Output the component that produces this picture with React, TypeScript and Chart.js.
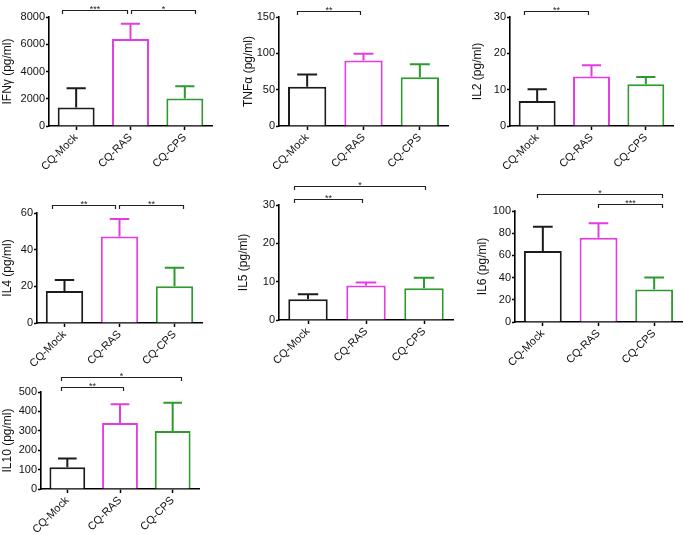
import React, { useEffect, useRef } from 'react';
import { Chart, registerables } from 'chart.js';

Chart.register(...registerables);

// ---------- data ----------
const categories = ['CQ-Mock', 'CQ-RAS', 'CQ-CPS'];
const barColors = ['#1c1c1c', '#e43ce4', '#2e9a2e'];

const ifngMean = [1350, 6380, 2010];
const ifngSem = [1420, 1130, 910];
const tnfMean = [54, 90, 67];
const tnfSem = [17, 9.5, 18];
const il2Mean = [6.9, 13.6, 11.5];
const il2Sem = [3.2, 3.1, 2.0];
const il4Mean = [17.4, 47.2, 20.1];
const il4Sem = [6.0, 9.5, 10.1];
const il5Mean = [5.4, 9.0, 8.3];
const il5Sem = [1.3, 0.8, 2.7];
const il6Mean = [63.9, 75.9, 29.2];
const il6Sem = [21.9, 13.0, 10.9];
const il10Mean = [112, 340, 299];
const il10Sem = [45, 97, 146];

// significance comparisons: group a vs group b, label, bracket level (data units)
const ifngSig = [
  { a: 0, b: 1, label: '***', level: 8510 },
  { a: 1, b: 2, label: '*', level: 8510 },
];
const tnfSig = [{ a: 0, b: 1, label: '**', level: 158.3 }];
const il2Sig = [{ a: 0, b: 1, label: '**', level: 31.65 }];
const il4Sig = [
  { a: 0, b: 1, label: '**', level: 64.4 },
  { a: 1, b: 2, label: '**', level: 64.4 },
];
const il5Sig = [
  { a: 0, b: 1, label: '**', level: 31.6 },
  { a: 0, b: 2, label: '*', level: 35.0 },
];
const il6Sig = [
  { a: 0, b: 2, label: '*', level: 115.3 },
  { a: 1, b: 2, label: '***', level: 106.3 },
];
const il10Sig = [
  { a: 0, b: 1, label: '**', level: 523.6 },
  { a: 0, b: 2, label: '*', level: 575.5 },
];

// ---------- layout / style ----------
const FONT = "'Liberation Sans', Arial, Helvetica, sans-serif";

type Sig = { a: number; b: number; label: string; level: number };
type PanelDef = {
  title: string;
  mean: number[];
  sem: number[];
  max: number;
  step: number;
  sig: Sig[];
  nudge: [number, number][];
  box: { cx: number; cy: number; cw: number; ch: number };
  area: { left: number; right: number; top: number; bottom: number };
};

const panels: PanelDef[] = [
  {
    title: 'IFNγ (pg/ml)', mean: ifngMean, sem: ifngSem, max: 8000, step: 2000, sig: ifngSig,
    nudge: [[-0.26, -0.07], [0, 0.19]],
    box: { cx: 0, cy: 0, cw: 228, ch: 190 }, area: { left: 49, right: 212, top: 17, bottom: 126 },
  },
  {
    title: 'TNFα (pg/ml)', mean: tnfMean, sem: tnfSem, max: 150, step: 50, sig: tnfSig,
    nudge: [[-0.18, -0.06]],
    box: { cx: 241, cy: 0, cw: 220, ch: 190 }, area: { left: 279, right: 448, top: 17, bottom: 126 },
  },
  {
    title: 'IL2 (pg/ml)', mean: il2Mean, sem: il2Sem, max: 30, step: 10, sig: il2Sig,
    nudge: [[-0.24, -0.06]],
    box: { cx: 470, cy: 0, cw: 215, ch: 190 }, area: { left: 510, right: 673, top: 17, bottom: 126 },
  },
  {
    title: 'IL4 (pg/ml)', mean: il4Mean, sem: il4Sem, max: 60, step: 20, sig: il4Sig,
    nudge: [[-0.23, -0.08], [-0.01, 0.15]],
    box: { cx: 0, cy: 178, cw: 228, ch: 195 }, area: { left: 37, right: 202, top: 213, bottom: 323 },
  },
  {
    title: 'IL5 (pg/ml)', mean: il5Mean, sem: il5Sem, max: 30, step: 10, sig: il5Sig,
    nudge: [[-0.24, -0.07], [-0.24, 0.02]],
    box: { cx: 236, cy: 178, cw: 225, ch: 195 }, area: { left: 279, right: 453, top: 205, bottom: 320 },
  },
  {
    title: 'IL6 (pg/ml)', mean: il6Mean, sem: il6Sem, max: 100, step: 20, sig: il6Sig,
    nudge: [[-0.11, 0.14], [-0.01, 0.14]],
    box: { cx: 475, cy: 178, cw: 210, ch: 195 }, area: { left: 515, right: 682, top: 211, bottom: 322 },
  },
  {
    title: 'IL10 (pg/ml)', mean: il10Mean, sem: il10Sem, max: 500, step: 100, sig: il10Sig,
    nudge: [[-0.12, 0.06], [-0.12, 0.16]],
    box: { cx: 0, cy: 360, cw: 228, ch: 175 }, area: { left: 41, right: 199, top: 392, bottom: 498 },
  },
];

function Panel({ p }: { p: PanelDef }) {
  const ref = useRef<HTMLCanvasElement>(null);
  const { cx, cy, cw, ch } = p.box;

  useEffect(() => {
    const canvas = ref.current;
    if (!canvas) return;
    const { left, right, top, bottom } = p.area;
    const Wy = left - cx;
    const Hx = 46;
    const padT = top - cy;
    const padR = cx + cw - right;
    const padB = Math.max(0, cy + ch - bottom - Hx);

    const errorBars = {
      id: 'errorBars',
      afterDatasetsDraw(chart: any) {
        const ctx = chart.ctx;
        const meta = chart.getDatasetMeta(0);
        const ys = chart.scales.y;
        ctx.save();
        meta.data.forEach((bar: any, i: number) => {
          const yTop = ys.getPixelForValue(p.mean[i] + p.sem[i]);
          const half = bar.width * 0.26;
          ctx.strokeStyle = barColors[i];
          ctx.lineWidth = 2;
          ctx.beginPath();
          ctx.moveTo(bar.x, bar.y);
          ctx.lineTo(bar.x, yTop);
          ctx.moveTo(bar.x - half, yTop);
          ctx.lineTo(bar.x + half, yTop);
          ctx.stroke();
        });
        ctx.restore();
      },
    };

    const brackets = {
      id: 'brackets',
      afterDraw(chart: any) {
        const ctx = chart.ctx;
        const xs = chart.scales.x;
        const ys = chart.scales.y;
        const p0 = xs.getPixelForTick(0);
        const stepPx = xs.getPixelForTick(1) - p0;
        ctx.save();
        ctx.strokeStyle = '#222';
        ctx.fillStyle = '#222';
        ctx.lineWidth = 1.2;
        ctx.font = `9px ${FONT}`;
        ctx.textAlign = 'center';
        ctx.textBaseline = 'alphabetic';
        p.sig.forEach((s, k) => {
          const nd = p.nudge[k] || [0, 0];
          const x1 = Math.round(p0 + (s.a + nd[0]) * stepPx) + 0.5;
          const x2 = Math.round(p0 + (s.b + nd[1]) * stepPx) + 0.5;
          const y = Math.round(ys.getPixelForValue(s.level)) + 0.5;
          ctx.beginPath();
          ctx.moveTo(x1, y + 3.5);
          ctx.lineTo(x1, y);
          ctx.lineTo(x2, y);
          ctx.lineTo(x2, y + 3.5);
          ctx.stroke();
          ctx.fillText(s.label, (x1 + x2) / 2, y + 1);
        });
        ctx.restore();
      },
    };

    const chart = new Chart(canvas, {
      type: 'bar',
      data: {
        labels: categories,
        datasets: [
          {
            data: p.mean,
            backgroundColor: '#ffffff',
            borderColor: barColors,
            borderWidth: 2,
            barPercentage: 0.68,
            categoryPercentage: 1,
          },
        ],
      },
      options: {
        responsive: false,
        maintainAspectRatio: false,
        animation: false,
        layout: { padding: { left: 0, top: padT, right: padR, bottom: padB } },
        plugins: { legend: { display: false }, tooltip: { enabled: false } },
        scales: {
          x: {
            offset: true,
            grid: {
              offset: false,
              drawOnChartArea: false,
              drawTicks: true,
              tickLength: 4,
              tickColor: '#000',
              tickWidth: 1.5,
            },
            border: { display: true, color: '#000', width: 1.6 },
            ticks: {
              autoSkip: false,
              minRotation: 45,
              maxRotation: 45,
              padding: 1,
              color: '#111',
              font: { family: FONT, size: 11 },
            },
            afterFit: (s: any) => {
              s.height = Hx;
            },
          },
          y: {
            min: 0,
            max: p.max,
            grid: {
              drawOnChartArea: false,
              drawTicks: true,
              tickLength: 3,
              tickColor: '#000',
              tickWidth: 1.5,
            },
            border: { display: true, color: '#000', width: 1.6 },
            ticks: {
              stepSize: p.step,
              padding: 1,
              color: '#111',
              font: { family: FONT, size: 11 },
              callback: (v: any) => String(v),
            },
            title: {
              display: true,
              text: p.title,
              color: '#111',
              padding: { top: 0, bottom: 0 },
              font: { family: FONT, size: 12 },
            },
            afterFit: (s: any) => {
              s.width = Wy;
            },
          },
        },
      } as any,
      plugins: [errorBars, brackets],
    });
    return () => chart.destroy();
  }, [p]);

  return (
    <canvas
      ref={ref}
      width={cw}
      height={ch}
      style={{ position: 'absolute', left: cx, top: cy, width: cw, height: ch }}
    />
  );
}

export default function App() {
  return (
    <div
      style={{
        position: 'absolute',
        left: 0,
        top: 0,
        width: 685,
        height: 535,
        background: '#ffffff',
        overflow: 'hidden',
      }}
    >
      {panels.map((p, i) => (
        <Panel key={i} p={p} />
      ))}
    </div>
  );
}
